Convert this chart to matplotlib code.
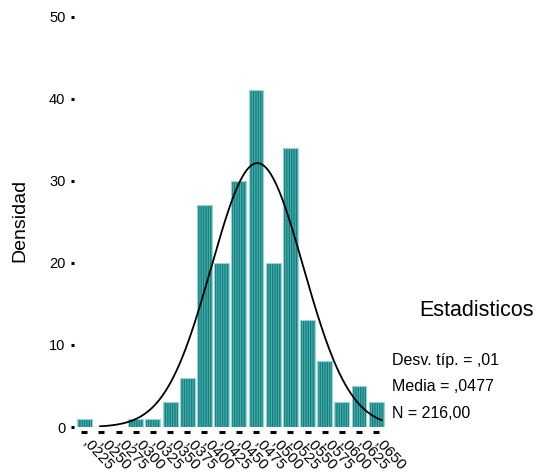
import numpy as np
import matplotlib
matplotlib.use("Agg")
import matplotlib.pyplot as plt

plt.rcParams['font.family'] = ['Liberation Sans', 'DejaVu Sans']
plt.rcParams['hatch.linewidth'] = 0.9

# Histogram bins (centres) and counts
bin_centers = [0.0225, 0.0250, 0.0275, 0.0300, 0.0325, 0.0350, 0.0375, 0.0400, 0.0425,
               0.0450, 0.0475, 0.0500, 0.0525, 0.0550, 0.0575, 0.0600, 0.0625, 0.0650]
counts = [1, 0, 0, 1, 1, 3, 6, 27, 20, 30, 41, 20, 34, 13, 8, 3, 5, 3]
tick_labels = [",0225", ",0250", ",0275", ",0300", ",0325", ",0350", ",0375", ",0400", ",0425",
               ",0450", ",0475", ",0500", ",0525", ",0550", ",0575", ",0600", ",0625", ",0650"]
y_ticks = [0, 10, 20, 30, 40, 50]

# Summary statistics
n_obs = 216
mean_val = 0.0477
std_val = 0.0067
bin_width = 0.0025

fig = plt.figure(figsize=(5.4, 4.74), dpi=100)
ax = fig.add_axes([0.137, 0.099, 0.580, 0.866])

ax.bar(bin_centers, counts, width=bin_width * 0.87, color='#4aadad',
       edgecolor='#12807f', hatch='|' * 7, linewidth=0)
ax.bar(bin_centers, counts, width=bin_width * 0.87, fill=False,
       edgecolor='#9fd3d3', linewidth=0.8)

# Normal curve scaled to the counts
xs = np.linspace(0.0248, 0.0658, 300)
ys = n_obs * bin_width / (std_val * np.sqrt(2 * np.pi)) * np.exp(-0.5 * ((xs - mean_val) / std_val) ** 2)
ax.plot(xs, ys, color='black', lw=1.3)

ax.set_xlim(0.0210, 0.0666)
ax.set_ylim(0, 50)
for s in ax.spines.values():
    s.set_visible(False)

ax.set_yticks(y_ticks)
ax.set_yticklabels([str(v) for v in y_ticks], fontsize=10.5)
ax.tick_params(axis='y', direction='out', length=2.2, width=2.2, pad=4, colors='black')
ax.set_xticks([])

# x tick marks as small dashes below the baseline
ax.plot(bin_centers, [-0.012] * len(bin_centers), transform=ax.get_xaxis_transform(),
        ls='none', marker='_', ms=4, mew=2.2, color='black', clip_on=False)

for c, lab in zip(bin_centers, tick_labels):
    ax.text(c + 0.0001, -0.034, lab, transform=ax.get_xaxis_transform(), rotation=-47,
            rotation_mode='anchor', ha='left', va='center', fontsize=11)

fig.text(0.037, 0.535, "Densidad", rotation=90, ha='center', va='center', fontsize=14)

fig.text(0.776, 0.345, "Estadisticos", ha='left', va='center', fontsize=15.5)
fig.text(0.726, 0.240, "Desv. típ. = ,01", ha='left', va='center', fontsize=11.5)
fig.text(0.726, 0.184, "Media = ,0477", ha='left', va='center', fontsize=11.5)
fig.text(0.726, 0.128, "N = 216,00", ha='left', va='center', fontsize=11.5)

fig.savefig("out.png", dpi=100)
